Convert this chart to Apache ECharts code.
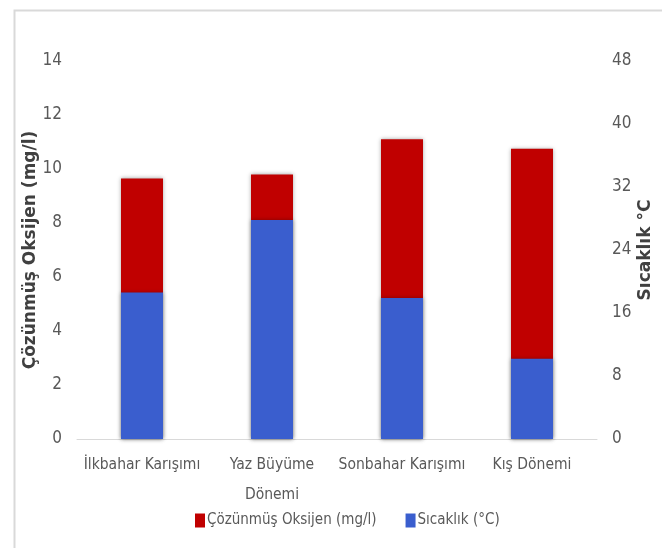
<!DOCTYPE html>
<html>
<head>
<meta charset="utf-8">
<script src="https://cdn.jsdelivr.net/npm/echarts@6/dist/echarts.min.js"></script>
<style>html,body{margin:0;padding:0;background:#fff;}#c{width:662px;height:548px;}</style>
</head>
<body>
<div id="c"></div>
<script>
var categories = ['İlkbahar Karışımı', 'Yaz Büyüme Dönemi', 'Sonbahar Karışımı', 'Kış Dönemi'];
var oxygen = [9.65, 9.8, 11.1, 10.75];        // Çözünmüş Oksijen (mg/l), left axis
var temperature = [18.6, 27.8, 17.9, 10.2];    // Sıcaklık (°C), right axis
var leftTicks = { min: 0, max: 14, interval: 2 };
var rightTicks = { min: 0, max: 48, interval: 8 };
var seriesNames = ['Çözünmüş Oksijen (mg/l)', 'Sıcaklık (°C)'];

var narrow = '"Liberation Sans Narrow", "DejaVu Sans Condensed", sans-serif';
var chart = echarts.init(document.getElementById('c'));
chart.setOption({
  backgroundColor: '#fff',
  animation: false,
  graphic: [{
    type: 'rect', left: 12, top: 8, shape: { width: 700, height: 600 },
    style: { fill: 'none', stroke: '#d9d9d9', lineWidth: 2 }, silent: true
  }],
  grid: { left: 77, right: 65, top: 61, bottom: 109, outerBoundsMode: 'none', containLabel: false },
  legend: {
    top: 508, left: 190, itemWidth: 10, itemHeight: 14, itemGap: 29,
    icon: 'rect',
    textStyle: { fontFamily: narrow, fontSize: 15, color: '#595959', padding: [0, 0, 0, -3] },
    data: seriesNames
  },
  xAxis: {
    type: 'category', data: categories,
    axisLine: { lineStyle: { color: '#d9d9d9', width: 1 } },
    axisTick: { show: false },
    axisLabel: {
      fontFamily: narrow, fontSize: 15.5, color: '#595959', margin: 11,
      interval: 0, lineHeight: 30,
      formatter: function (v) { return v === 'Yaz Büyüme Dönemi' ? 'Yaz Büyüme\nDönemi' : v; }
    }
  },
  yAxis: [{
    type: 'value', min: leftTicks.min, max: leftTicks.max, interval: leftTicks.interval,
    name: 'Çözünmüş Oksijen (mg/l)', nameLocation: 'middle', nameGap: 38, nameMoveOverlap: false,
    nameTextStyle: { fontFamily: 'DejaVu Sans', fontWeight: 'bold', fontSize: 17, color: '#404040' },
    axisLine: { show: false }, axisTick: { show: false }, splitLine: { show: false },
    axisLabel: { fontFamily: narrow, fontSize: 17, color: '#595959', margin: 15 }
  }, {
    type: 'value', min: rightTicks.min, max: rightTicks.max, interval: rightTicks.interval,
    name: 'Sıcaklık °C', nameLocation: 'middle', nameGap: 40, nameRotate: 90, nameMoveOverlap: false,
    nameTextStyle: { fontFamily: 'DejaVu Sans', fontWeight: 'bold', fontSize: 17, color: '#404040' },
    axisLine: { show: false }, axisTick: { show: false }, splitLine: { show: false },
    axisLabel: { fontFamily: narrow, fontSize: 17, color: '#595959', margin: 15 }
  }],
  series: [{
    name: seriesNames[0], type: 'bar', yAxisIndex: 0, data: oxygen,
    barWidth: 42, barGap: '-100%',
    itemStyle: { color: '#C00000', shadowBlur: 4, shadowColor: 'rgba(0,0,0,0.35)' }
  }, {
    name: seriesNames[1], type: 'bar', yAxisIndex: 1, data: temperature,
    barWidth: 42, barGap: '-100%',
    itemStyle: { color: '#3A5ECE', shadowBlur: 4, shadowColor: 'rgba(0,0,0,0.35)' }
  }]
});
</script>
</body>
</html>
